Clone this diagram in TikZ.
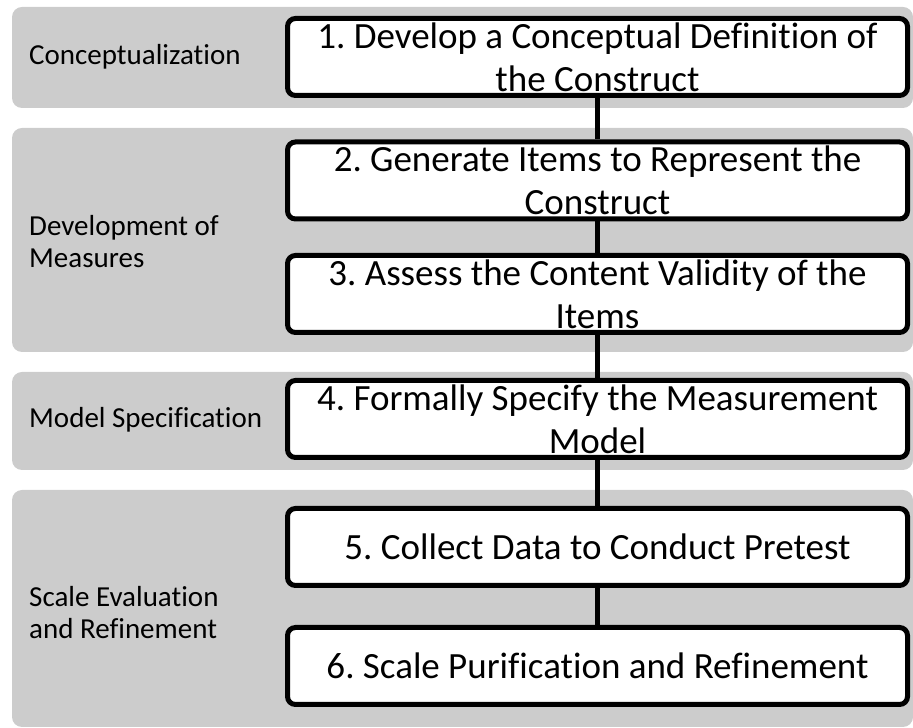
\documentclass[tikz,border=0pt]{standalone}
\usepackage{fontspec}
\setmainfont{Carlito}[Ligatures=NoCommon]
\definecolor{bandgray}{HTML}{CCCCCC}
\begin{document}
\frenchspacing
\begin{tikzpicture}[x=1pt,y=1pt,
  band/.style={fill=bandgray, rounded corners=10pt},
  stepbox/.style={draw=black, line width=5pt, rounded corners=8pt, fill=white,
    minimum width=620pt, minimum height=77pt, text width=610pt, align=flush center,
    font=\fontsize{37}{43}\selectfont\frenchspacing, inner sep=0pt},
  lab/.style={anchor=west, align=flush left, font=\fontsize{29}{32}\selectfont\frenchspacing, inner sep=0pt},
  link/.style={line width=5pt}]
\useasboundingbox (0,0) rectangle (913,728);
% bands
\fill[band] (12,620) rectangle (913,721);
\fill[band] (12,376) rectangle (913,600);
\fill[band] (12,258) rectangle (913,356);
\fill[band] (12,1) rectangle (913,238);
% labels
\node[lab] (l1) at (29,671) {Conceptualization};
\node[lab] (l2) at (29,486) {Development of\\Measures};
\node[lab] (l3) at (29,308) {Model Specification};
\node[lab] (l4) at (29,115) {Scale Evaluation\\and Refinement};
% boxes
\node[stepbox] (s1) at (597.5,671) {1. Develop a Conceptual Definition of\\the Construct};
\node[stepbox] (s2) at (597.5,547.5) {2. Generate Items to Represent the\\Construct};
\node[stepbox] (s3) at (597.5,434) {3. Assess the Content Validity of the\\Items};
\node[stepbox] (s4) at (597.5,309) {4. Formally Specify the Measurement\\Model};
\node[stepbox] (s5) at (597.5,181) {5. Collect Data to Conduct Pretest};
\node[stepbox] (s6) at (597.5,62) {6. Scale Purification and Refinement};
% connectors between boxes
\draw[link] (s1) -- (s2);
\draw[link] (s2) -- (s3);
\draw[link] (s3) -- (s4);
\draw[link] (s4) -- (s5);
\draw[link] (s5) -- (s6);
\end{tikzpicture}
\end{document}
